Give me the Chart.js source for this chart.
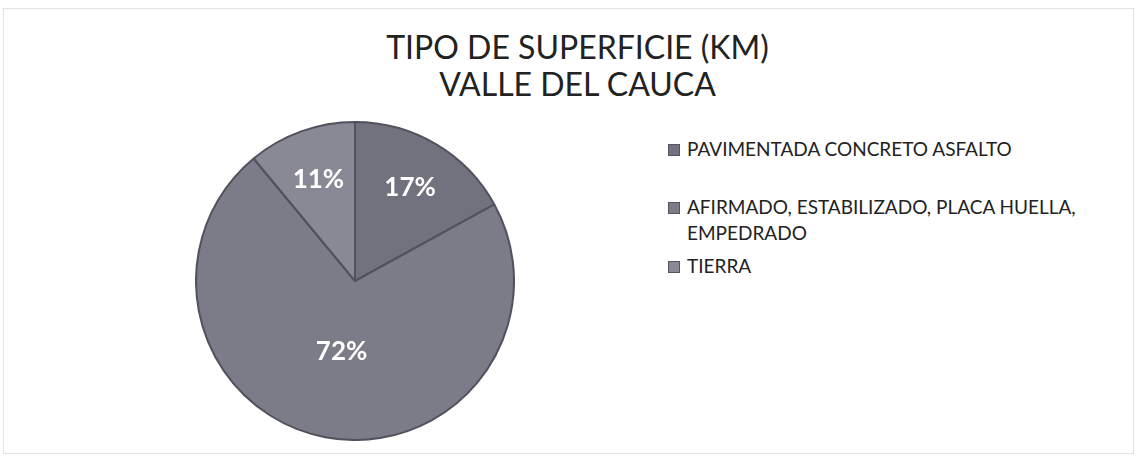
<!DOCTYPE html>
<html>
<head>
<meta charset="utf-8">
<script src="https://cdn.jsdelivr.net/npm/chart.js@4.4.1/dist/chart.umd.min.js"></script>
<style>
  html, body { margin: 0; padding: 0; background: #ffffff; }
  body { width: 1140px; height: 460px; position: relative; overflow: hidden; font-family: Lato, "Open Sans", sans-serif; }
  #frame { position: absolute; left: 3px; top: 8px; width: 1131px; height: 446px; border: 1px solid #e2e2e2; box-sizing: border-box; }
  #title { position: absolute; left: 0; width: 1155px; top: 28px; text-align: center; font-size: 32px; line-height: 37px; color: #222222; }
  #pieBox { position: absolute; left: 195px; top: 121px; width: 320px; height: 320px; }
  #legend { position: absolute; left: 668px; top: 136px; width: 450px; font-size: 19px; line-height: 26px; color: #222222; }
  .item { position: relative; padding-left: 19px; }
  .swatch { position: absolute; left: 0; top: 8px; width: 12px; height: 12px; border: 1px solid #55555f; box-sizing: border-box; }
</style>
</head>
<body>
<div id="frame"></div>
<div id="title"></div>
<div id="pieBox"><canvas id="c" width="320" height="320"></canvas></div>
<div id="legend"></div>
<script>
const chartTitle = ['TIPO DE SUPERFICIE (KM)', 'VALLE DEL CAUCA'];
const categories = ['PAVIMENTADA CONCRETO ASFALTO', 'AFIRMADO, ESTABILIZADO, PLACA HUELLA, EMPEDRADO', 'TIERRA'];
const legendLines = [['PAVIMENTADA CONCRETO ASFALTO'], ['AFIRMADO, ESTABILIZADO, PLACA HUELLA,', 'EMPEDRADO'], ['TIERRA']];
const percentages = [17, 72, 11];
const sliceColors = ['#72727f', '#7c7c89', '#898995'];

document.getElementById('title').innerHTML = chartTitle.join('<br>');

const pctLabels = {
  id: 'pctLabels',
  afterDatasetsDraw(chart) {
    const ctx = chart.ctx;
    const meta = chart.getDatasetMeta(0);
    ctx.save();
    ctx.fillStyle = '#ffffff';
    ctx.font = 'bold 26px Lato, "Open Sans", sans-serif';
    ctx.textAlign = 'center';
    ctx.textBaseline = 'middle';
    meta.data.forEach((arc, i) => {
      const p = arc.getProps(['x', 'y', 'startAngle', 'endAngle', 'outerRadius'], true);
      const mid = (p.startAngle + p.endAngle) / 2;
      const v = chart.data.datasets[0].data[i];
      const frac = v > 50 ? 0.45 : 0.68;
      const tx = p.x + Math.cos(mid) * p.outerRadius * frac;
      const ty = p.y + Math.sin(mid) * p.outerRadius * frac;
      ctx.fillText(v + '%', tx, ty);
    });
    ctx.restore();
  }
};

const chart = new Chart(document.getElementById('c'), {
  type: 'pie',
  data: {
    labels: categories,
    datasets: [{
      data: percentages,
      backgroundColor: sliceColors,
      borderColor: '#52525e',
      borderWidth: 2
    }]
  },
  options: {
    responsive: false,
    animation: false,
    layout: { padding: 0 },
    plugins: {
      legend: { display: false },
      tooltip: { enabled: false },
      title: { display: false }
    }
  },
  plugins: [pctLabels]
});

const legendEl = document.getElementById('legend');
const gaps = [32, 7, 0];
chart.data.labels.forEach((lab, i) => {
  const div = document.createElement('div');
  div.className = 'item';
  div.style.marginBottom = gaps[i] + 'px';
  const sw = document.createElement('span');
  sw.className = 'swatch';
  sw.style.background = chart.data.datasets[0].backgroundColor[i];
  div.appendChild(sw);
  legendLines[i].forEach(line => {
    const t = document.createElement('div');
    t.style.whiteSpace = 'nowrap';
    t.textContent = line;
    div.appendChild(t);
  });
  legendEl.appendChild(div);
});
</script>
</body>
</html>
